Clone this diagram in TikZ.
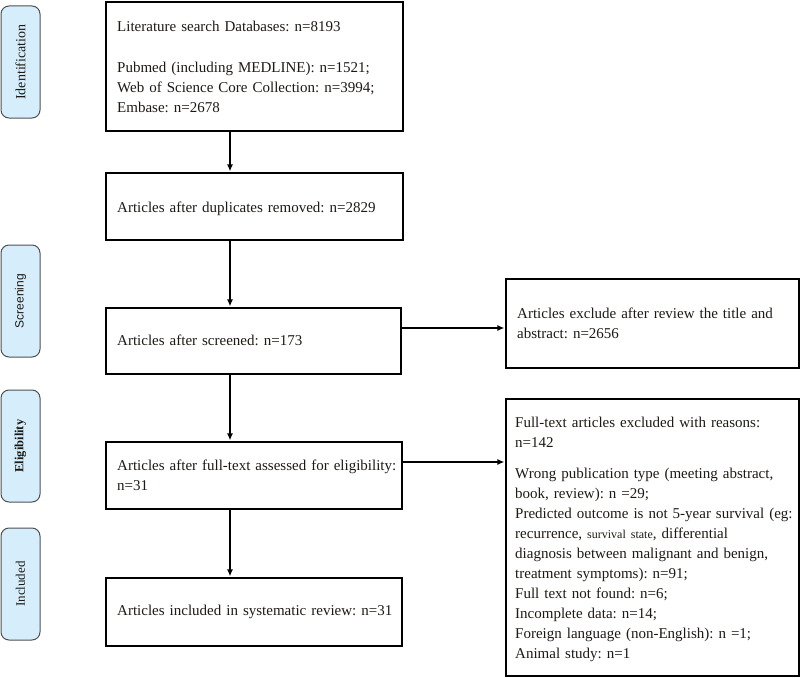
\documentclass[tikz,border=0pt]{standalone}
\usepackage{fontspec}
\setmainfont{Liberation Serif}
\newfontfamily\labelsans{Liberation Sans}
\usetikzlibrary{arrows.meta}
\definecolor{sidefill}{RGB}{214,238,252}
\definecolor{sideline}{RGB}{80,80,80}
\definecolor{ink}{RGB}{30,25,20}
\frenchspacing
\begin{document}
\begin{tikzpicture}[x=1pt,y=-1pt,
  box/.style={draw=black, line width=1.7pt, inner sep=0pt, anchor=north west},
  txt/.style={anchor=base west, inner sep=0pt, text width=292pt, align=left, text=ink, font=\frenchspacing\fontsize{15}{20}\selectfont},
  side/.style={draw=sideline, fill=sidefill, line width=1pt, rounded corners=8pt, rotate=90, minimum width=112pt, minimum height=39pt, inner sep=0pt, text=ink},
  arr/.style={line width=1.5pt, shorten >=0.6pt, -{Latex[length=7pt,width=6pt]}}
]
\useasboundingbox (0,0) rectangle (800,677);

% side labels
\node[side, font=\fontsize{14}{16}\selectfont] (s1) at (20.5,62) {Identification};
\node[side, font=\labelsans\fontsize{12}{14}\selectfont] (s2) at (20.5,301) {Screening};
\node[side, font=\bfseries\fontsize{12.5}{14}\selectfont] (s3) at (20.5,446) {Eligibility};
\node[side, font=\fontsize{13}{15}\selectfont] (s4) at (20.5,584) {Included};

% main boxes
\node[box, minimum width=297pt, minimum height=129pt] (b1) at (105,1) {};
\node[box, minimum width=297pt, minimum height=67pt] (b2) at (105,172) {};
\node[box, minimum width=295pt, minimum height=66pt] (b3) at (105,307) {};
\node[box, minimum width=296pt, minimum height=67pt] (b4) at (105,441) {};
\node[box, minimum width=296pt, minimum height=68pt] (b5) at (105,577) {};
\node[box, minimum width=293pt, minimum height=89pt] (e1) at (505,278) {};
\node[box, minimum width=293pt, minimum height=277pt] (e2) at (505,398) {};

% texts
\node[txt] (t1) at (117,32) {Literature search Databases: n=8193\\[21pt]
Pubmed (including MEDLINE): n=1521;\\
Web of Science Core Collection: n=3994;\\
Embase: n=2678};
\node[txt] (t2) at (117,212) {Articles after duplicates removed: n=2829};
\node[txt] (t3) at (117,345) {Articles after screened: n=173};
\node[txt] (t4) at (117,470) {Articles after full-text assessed for eligibility:\\n=31};
\node[txt] (t5) at (117,615) {Articles included in systematic review: n=31};
\node[txt] (t6) at (517,318) {Articles exclude after review the title and\\abstract: n=2656};
\node[txt] (t7) at (515,427) {Full-text articles excluded with reasons:\\
n=142\\[11pt]
Wrong publication type (meeting abstract,\\
book, review): n =29;\\
Predicted outcome is not 5-year survival (eg:\\
recurrence, {\fontsize{12}{20}\selectfont survival state}, differential\\
diagnosis between malignant and benign,\\
treatment symptoms): n=91;\\
Full text not found: n=6;\\
Incomplete data: n=14;\\
Foreign language (non-English): n =1;\\
Animal study: n=1};

% connectors
\coordinate (ax) at (230,0);
\coordinate (ay1) at (0,328);
\coordinate (ay2) at (0,462);
\draw[arr] (b1.south -| ax) -- (b2.north -| ax);
\draw[arr] (b2.south -| ax) -- (b3.north -| ax);
\draw[arr] (b3.south -| ax) -- (b4.north -| ax);
\draw[arr] (b4.south -| ax) -- (b5.north -| ax);
\draw[arr] (b3.east |- ay1) -- (e1.west |- ay1);
\draw[arr] (b4.east |- ay2) -- (e2.west |- ay2);
\end{tikzpicture}
\end{document}
